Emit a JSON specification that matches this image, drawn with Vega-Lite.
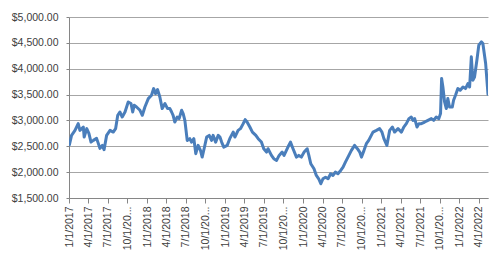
{
  "$schema": "https://vega.github.io/schema/vega-lite/v6.json",
  "autosize": {"type": "none"},
  "padding": {"left": 69, "top": 17, "right": 16, "bottom": 62},
  "width": 419,
  "height": 181,
  "background": "#ffffff",
  "config": {
    "view": {"stroke": null},
    "font": "Liberation Sans",
    "axis": {"labelFont": "Liberation Sans", "labelFontSize": 10.5, "labelColor": "#404040"}
  },
  "data": {
    "values": [
      {"date": "2017-01-03", "value": 2530},
      {"date": "2017-01-13", "value": 2711},
      {"date": "2017-01-29", "value": 2808},
      {"date": "2017-02-13", "value": 2938},
      {"date": "2017-02-21", "value": 2808},
      {"date": "2017-03-09", "value": 2872},
      {"date": "2017-03-13", "value": 2678},
      {"date": "2017-03-25", "value": 2841},
      {"date": "2017-04-04", "value": 2750},
      {"date": "2017-04-14", "value": 2581},
      {"date": "2017-04-25", "value": 2614},
      {"date": "2017-05-10", "value": 2653},
      {"date": "2017-05-18", "value": 2556},
      {"date": "2017-05-26", "value": 2459},
      {"date": "2017-06-06", "value": 2518},
      {"date": "2017-06-14", "value": 2434},
      {"date": "2017-06-26", "value": 2711},
      {"date": "2017-07-12", "value": 2808},
      {"date": "2017-07-27", "value": 2775},
      {"date": "2017-08-07", "value": 2841},
      {"date": "2017-08-17", "value": 3099},
      {"date": "2017-08-27", "value": 3163},
      {"date": "2017-09-07", "value": 3066},
      {"date": "2017-09-20", "value": 3163},
      {"date": "2017-10-05", "value": 3357},
      {"date": "2017-10-18", "value": 3326},
      {"date": "2017-10-26", "value": 3163},
      {"date": "2017-11-02", "value": 3293},
      {"date": "2017-11-13", "value": 3260},
      {"date": "2017-11-29", "value": 3196},
      {"date": "2017-12-10", "value": 3099},
      {"date": "2017-12-22", "value": 3260},
      {"date": "2018-01-07", "value": 3422},
      {"date": "2018-01-22", "value": 3486},
      {"date": "2018-02-01", "value": 3616},
      {"date": "2018-02-10", "value": 3519},
      {"date": "2018-02-19", "value": 3597},
      {"date": "2018-03-02", "value": 3453},
      {"date": "2018-03-13", "value": 3229},
      {"date": "2018-03-26", "value": 3326},
      {"date": "2018-04-07", "value": 3229},
      {"date": "2018-04-18", "value": 3229},
      {"date": "2018-04-26", "value": 3163},
      {"date": "2018-05-03", "value": 3099},
      {"date": "2018-05-11", "value": 2969},
      {"date": "2018-05-22", "value": 3066},
      {"date": "2018-05-31", "value": 3035},
      {"date": "2018-06-12", "value": 3196},
      {"date": "2018-06-19", "value": 3132},
      {"date": "2018-06-27", "value": 3002},
      {"date": "2018-07-08", "value": 2614},
      {"date": "2018-07-20", "value": 2647},
      {"date": "2018-07-28", "value": 2581},
      {"date": "2018-08-08", "value": 2647},
      {"date": "2018-08-17", "value": 2357},
      {"date": "2018-08-28", "value": 2518},
      {"date": "2018-09-08", "value": 2421},
      {"date": "2018-09-16", "value": 2291},
      {"date": "2018-09-25", "value": 2453},
      {"date": "2018-10-07", "value": 2678},
      {"date": "2018-10-19", "value": 2711},
      {"date": "2018-10-30", "value": 2614},
      {"date": "2018-11-06", "value": 2711},
      {"date": "2018-11-18", "value": 2581},
      {"date": "2018-11-30", "value": 2711},
      {"date": "2018-12-08", "value": 2678},
      {"date": "2018-12-16", "value": 2581},
      {"date": "2018-12-26", "value": 2484},
      {"date": "2019-01-11", "value": 2518},
      {"date": "2019-01-23", "value": 2647},
      {"date": "2019-02-08", "value": 2775},
      {"date": "2019-02-16", "value": 2678},
      {"date": "2019-03-03", "value": 2808},
      {"date": "2019-03-14", "value": 2841},
      {"date": "2019-03-27", "value": 2938},
      {"date": "2019-04-05", "value": 3016},
      {"date": "2019-04-14", "value": 2969},
      {"date": "2019-04-27", "value": 2872},
      {"date": "2019-05-09", "value": 2775},
      {"date": "2019-05-25", "value": 2711},
      {"date": "2019-06-05", "value": 2647},
      {"date": "2019-06-20", "value": 2581},
      {"date": "2019-07-01", "value": 2453},
      {"date": "2019-07-14", "value": 2388},
      {"date": "2019-07-21", "value": 2453},
      {"date": "2019-08-06", "value": 2324},
      {"date": "2019-08-17", "value": 2260},
      {"date": "2019-08-30", "value": 2227},
      {"date": "2019-09-11", "value": 2324},
      {"date": "2019-09-25", "value": 2388},
      {"date": "2019-10-04", "value": 2324},
      {"date": "2019-10-15", "value": 2421},
      {"date": "2019-10-26", "value": 2518},
      {"date": "2019-11-03", "value": 2581},
      {"date": "2019-11-15", "value": 2453},
      {"date": "2019-12-01", "value": 2291},
      {"date": "2019-12-12", "value": 2324},
      {"date": "2019-12-24", "value": 2291},
      {"date": "2020-01-06", "value": 2388},
      {"date": "2020-01-20", "value": 2453},
      {"date": "2020-01-28", "value": 2324},
      {"date": "2020-02-06", "value": 2163},
      {"date": "2020-02-21", "value": 2066},
      {"date": "2020-03-03", "value": 1936},
      {"date": "2020-03-14", "value": 1872},
      {"date": "2020-03-24", "value": 1775},
      {"date": "2020-04-03", "value": 1872},
      {"date": "2020-04-15", "value": 1903},
      {"date": "2020-04-27", "value": 1872},
      {"date": "2020-05-09", "value": 1969},
      {"date": "2020-05-20", "value": 1936},
      {"date": "2020-05-31", "value": 2000},
      {"date": "2020-06-12", "value": 1969},
      {"date": "2020-06-25", "value": 2033},
      {"date": "2020-07-06", "value": 2097},
      {"date": "2020-07-17", "value": 2194},
      {"date": "2020-07-29", "value": 2291},
      {"date": "2020-08-14", "value": 2421},
      {"date": "2020-08-29", "value": 2518},
      {"date": "2020-09-11", "value": 2453},
      {"date": "2020-09-22", "value": 2388},
      {"date": "2020-09-30", "value": 2291},
      {"date": "2020-10-12", "value": 2421},
      {"date": "2020-10-23", "value": 2550},
      {"date": "2020-11-03", "value": 2614},
      {"date": "2020-11-15", "value": 2711},
      {"date": "2020-11-23", "value": 2775},
      {"date": "2020-12-09", "value": 2808},
      {"date": "2020-12-24", "value": 2841},
      {"date": "2021-01-04", "value": 2775},
      {"date": "2021-01-13", "value": 2647},
      {"date": "2021-01-27", "value": 2518},
      {"date": "2021-02-09", "value": 2808},
      {"date": "2021-02-22", "value": 2872},
      {"date": "2021-03-04", "value": 2775},
      {"date": "2021-03-20", "value": 2841},
      {"date": "2021-04-05", "value": 2775},
      {"date": "2021-04-16", "value": 2872},
      {"date": "2021-04-28", "value": 2938},
      {"date": "2021-05-10", "value": 3035},
      {"date": "2021-05-21", "value": 3066},
      {"date": "2021-05-29", "value": 3002},
      {"date": "2021-06-06", "value": 3035},
      {"date": "2021-06-17", "value": 2872},
      {"date": "2021-06-26", "value": 2938},
      {"date": "2021-07-07", "value": 2938},
      {"date": "2021-07-23", "value": 2969},
      {"date": "2021-08-07", "value": 3002},
      {"date": "2021-08-23", "value": 3035},
      {"date": "2021-09-03", "value": 3002},
      {"date": "2021-09-15", "value": 3066},
      {"date": "2021-09-27", "value": 3035},
      {"date": "2021-10-05", "value": 3132},
      {"date": "2021-10-10", "value": 3810},
      {"date": "2021-10-16", "value": 3647},
      {"date": "2021-10-24", "value": 3357},
      {"date": "2021-11-01", "value": 3229},
      {"date": "2021-11-08", "value": 3422},
      {"date": "2021-11-16", "value": 3260},
      {"date": "2021-11-29", "value": 3260},
      {"date": "2021-12-05", "value": 3390},
      {"date": "2021-12-14", "value": 3486},
      {"date": "2021-12-25", "value": 3616},
      {"date": "2022-01-05", "value": 3583},
      {"date": "2022-01-18", "value": 3647},
      {"date": "2022-01-30", "value": 3616},
      {"date": "2022-02-10", "value": 3713},
      {"date": "2022-02-18", "value": 3647},
      {"date": "2022-02-26", "value": 4229},
      {"date": "2022-03-05", "value": 3777},
      {"date": "2022-03-13", "value": 3841},
      {"date": "2022-03-24", "value": 4165},
      {"date": "2022-04-02", "value": 4455},
      {"date": "2022-04-14", "value": 4520},
      {"date": "2022-04-21", "value": 4488},
      {"date": "2022-05-04", "value": 4101},
      {"date": "2022-05-15", "value": 3506}
    ]
  },
  "mark": {"type": "line", "color": "#4a7ebb", "strokeWidth": 3, "strokeJoin": "round", "strokeCap": "round", "clip": true},
  "encoding": {
    "x": {
      "field": "date",
      "type": "temporal",
      "scale": {
        "type": "utc",
        "domain": [
          {"year": 2017, "month": 1, "date": 1, "utc": true},
          {"year": 2022, "month": 5, "date": 15, "utc": true}
        ],
        "nice": false
      },
      "axis": {
        "title": null,
        "grid": false,
        "tickCount": {"interval": "month", "step": 3},
        "labelExpr": "utcmonth(datum.value) == 9 ? '10/1/20...' : utcFormat(datum.value, '%-m/%-d/%Y')",
        "labelAngle": -90,
        "labelAlign": "right",
        "labelBaseline": "middle",
        "labelOverlap": false,
        "labelFlush": false,
        "labelPadding": 3,
        "tickSize": 5,
        "tickColor": "#868686",
        "domainColor": "#868686",
        "domainWidth": 1
      }
    },
    "y": {
      "field": "value",
      "type": "quantitative",
      "scale": {"domain": [1500, 5000], "nice": false, "zero": false},
      "axis": {
        "title": null,
        "values": [1500, 2000, 2500, 3000, 3500, 4000, 4500, 5000],
        "format": "$,.2f",
        "grid": true,
        "gridColor": "#a6a6a6",
        "gridWidth": 1,
        "tickSize": 3,
        "tickColor": "#868686",
        "domainColor": "#868686",
        "labelPadding": 8
      }
    }
  }
}
